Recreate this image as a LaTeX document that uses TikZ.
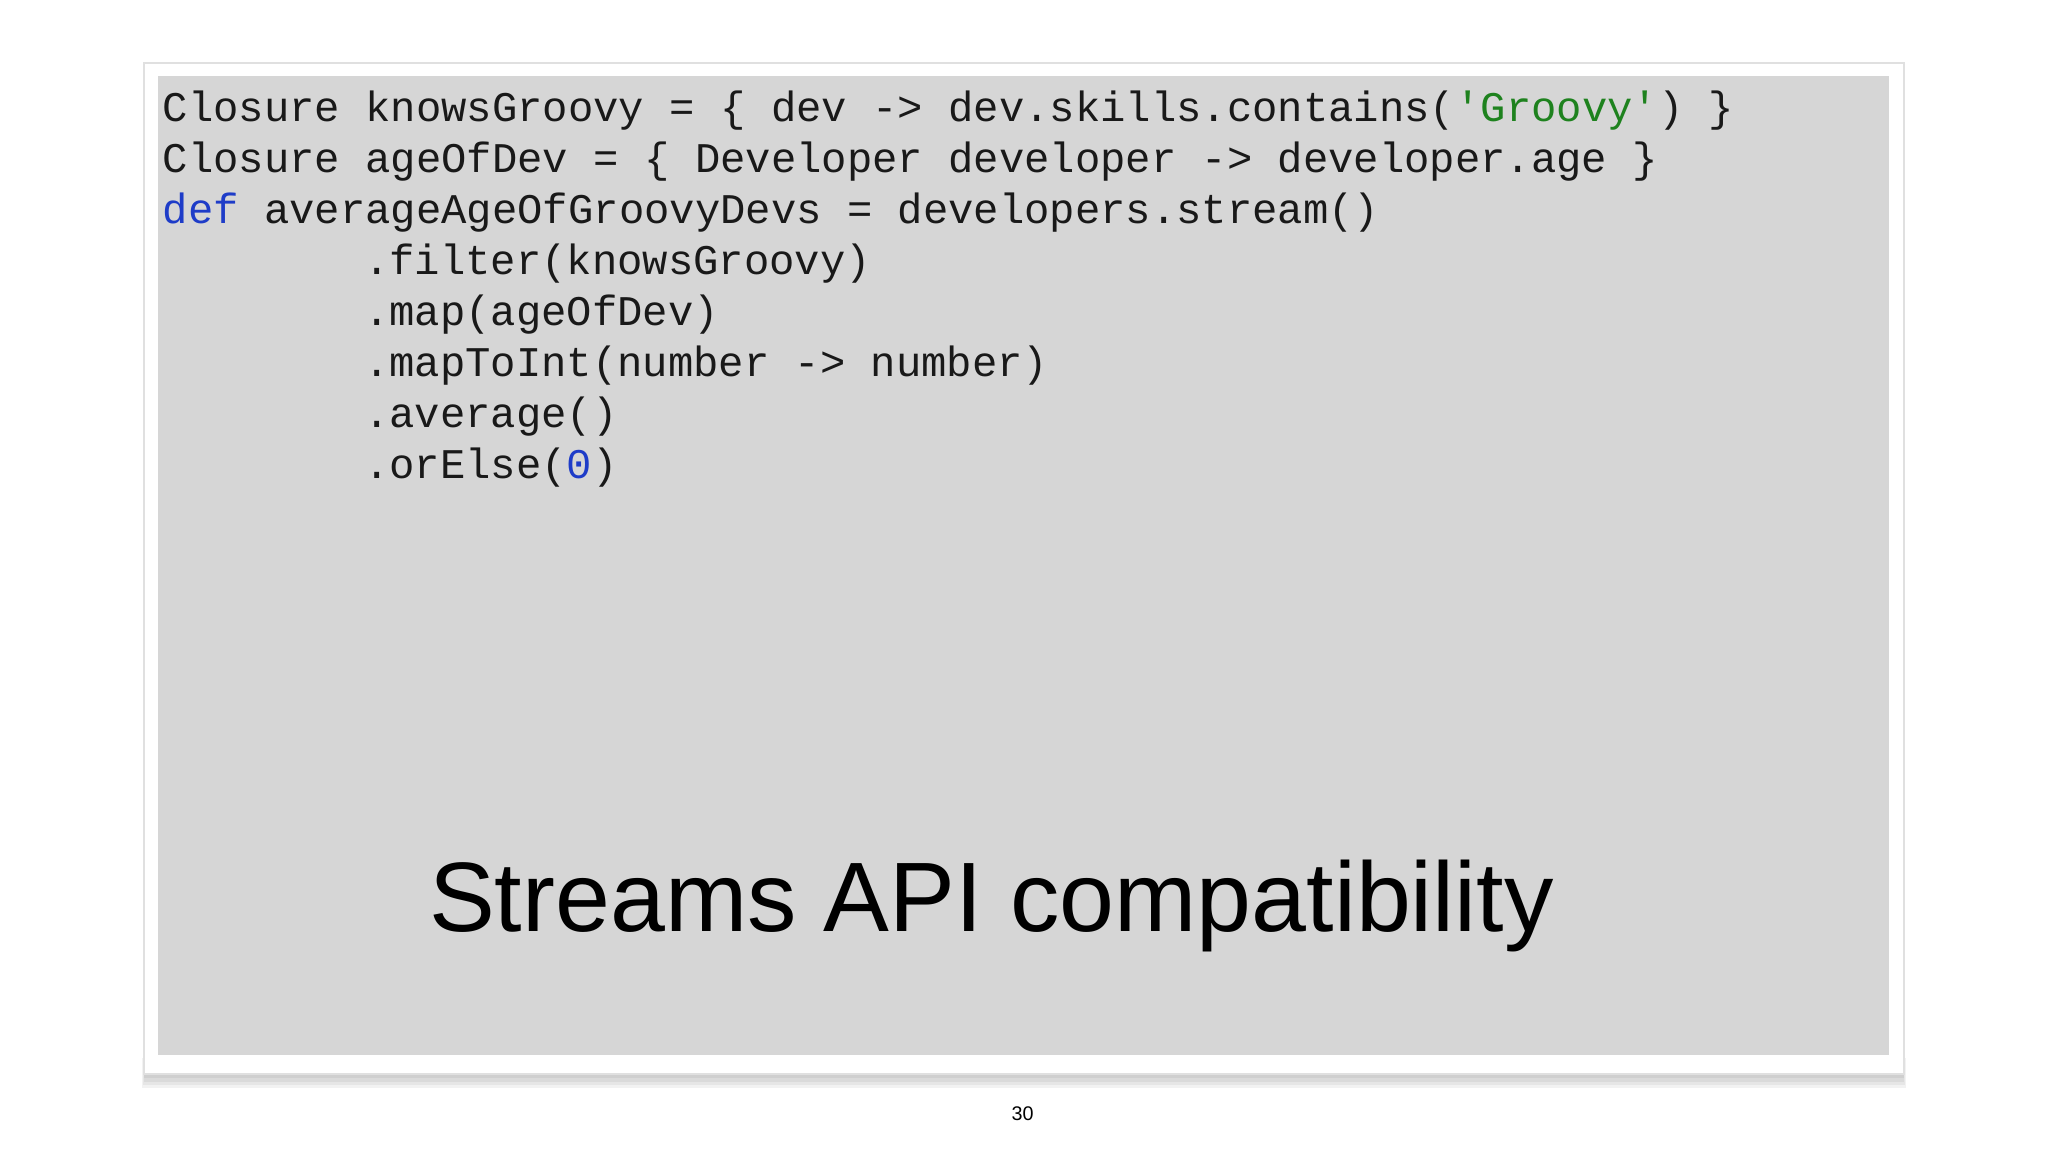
\documentclass[tikz,border=0pt]{standalone}
\usepackage{fontspec}
\setmainfont{Liberation Sans}
\newfontfamily\codefont{Liberation Mono}
\definecolor{bg}{RGB}{214,214,214}
\definecolor{kw}{RGB}{30,60,200}
\definecolor{str}{RGB}{30,130,30}
\begin{document}
\begin{tikzpicture}[x=1cm,y=-1cm,
  code/.style={anchor=base west,inner sep=0pt,font=\codefont\fontsize{9.2pt}{11pt}\selectfont,text=black!90}]
\useasboundingbox (0,0) rectangle (15.68,8.82);
% shadow
\foreach \i in {0,...,6}{
  \fill[black,opacity=0.05] (1.12-0.005*\i,8.10) rectangle (14.56+0.005*\i,8.18+0.025*\i);
}
\fill[white,draw=black!12] (1.10,0.48) rectangle (14.58,8.22);
\fill[bg] (1.21,0.58) rectangle (14.46,8.08);
\node[code] (l1) at (1.24,0.93) {Closure knowsGroovy = \{ dev -> dev.skills.contains(\textcolor{str}{'Groovy'}) \}};
\node[code] (l2) at (1.24,1.32) {Closure ageOfDev = \{ Developer developer -> developer.age \}};
\node[code] (l3) at (1.24,1.71) {\textcolor{kw}{def} averageAgeOfGroovyDevs = developers.stream()};
\node[code] (l4) at (2.78,2.10) {.filter(knowsGroovy)};
\node[code] (l5) at (2.78,2.49) {.map(ageOfDev)};
\node[code] (l6) at (2.78,2.88) {.mapToInt(number -> number)};
\node[code] (l7) at (2.78,3.27) {.average()};
\node[code] (l8) at (2.78,3.66) {.orElse(\textcolor{kw}{0})};
\node[anchor=base,inner sep=0pt,font=\fontsize{21.5pt}{24pt}\selectfont] (title) at (7.59,7.13) {Streams API compatibility};
\node[anchor=base,inner sep=0pt,font=\fontsize{4.3pt}{5pt}\selectfont] (pg) at (7.83,8.58) {30};
\end{tikzpicture}
\end{document}
